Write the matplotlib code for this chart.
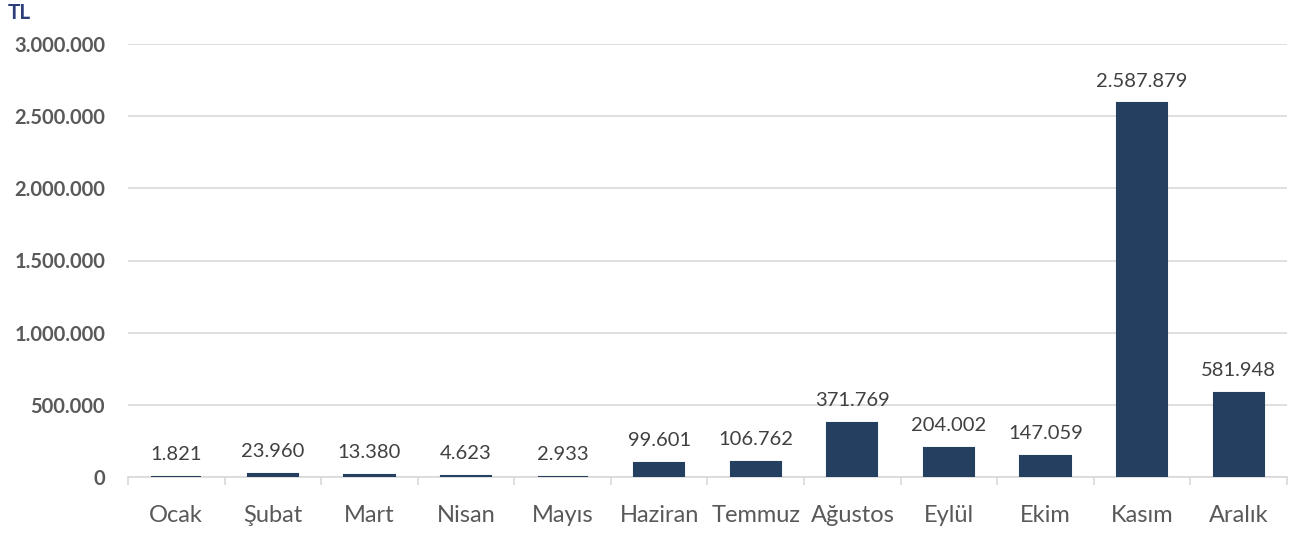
import matplotlib
matplotlib.use("Agg")
import matplotlib.pyplot as plt
from matplotlib.ticker import FixedLocator, FuncFormatter
import numpy as np

# veriler
months = ["Ocak", "Şubat", "Mart", "Nisan", "Mayıs", "Haziran",
          "Temmuz", "Ağustos", "Eylül", "Ekim", "Kasım", "Aralık"]
values = [1821, 23960, 13380, 4623, 2933, 99601,
          106762, 371769, 204002, 147059, 2587879, 581948]
y_ticks = [0, 500000, 1000000, 1500000, 2000000, 2500000, 3000000]

BAR_COLOR = "#243F60"
GRID_COLOR = "#D9D9D9"
TEXT_COLOR = "#595959"

plt.rcParams["font.family"] = ["Lato", "DejaVu Sans"]


def tr_fmt(v):
    # Türkçe binlik ayırıcı (nokta)
    return f"{int(round(v)):,}".replace(",", ".")


fig = plt.figure(figsize=(13.03, 5.34), dpi=100)
ax = fig.add_axes([128 / 1303, 1 - 477 / 534, (1287 - 128) / 1303, (477 - 44) / 534])

x = np.arange(len(months))
ax.bar(x, values, width=0.52, color=BAR_COLOR, edgecolor=BAR_COLOR,
       linewidth=1.5, zorder=3)

for xi, v in zip(x, values):
    ax.annotate(tr_fmt(v), (xi, v), xytext=(0, 10), textcoords="offset points",
                ha="center", va="bottom", fontsize=14.5, color="#404040")

ax.set_xlim(-0.5, len(months) - 0.5)
ax.set_ylim(0, 3000000)
ax.set_yticks(y_ticks)
ax.yaxis.set_major_formatter(FuncFormatter(lambda v, p: tr_fmt(v)))
ax.set_xticks(x)
ax.set_xticklabels(months)
ax.xaxis.set_minor_locator(FixedLocator(np.arange(-0.5, len(months), 1.0)))

ax.grid(axis="y", color=GRID_COLOR, linewidth=1.2, zorder=0)
for side in ["top", "right", "left"]:
    ax.spines[side].set_visible(False)
ax.spines["bottom"].set_color(GRID_COLOR)
ax.spines["bottom"].set_linewidth(1.2)

ax.tick_params(axis="y", length=0, pad=16.5, labelsize=14.5, labelcolor=TEXT_COLOR)
for lbl in ax.get_yticklabels():
    lbl.set_fontweight("bold")
ax.tick_params(axis="x", which="major", length=0, pad=20, labelsize=17,
               labelcolor=TEXT_COLOR)
ax.tick_params(axis="x", which="minor", length=6, width=1.2, color=GRID_COLOR)

fig.text(8 / 1303, 1 - 13 / 534, "TL", fontsize=15, fontweight="bold",
         color="#2E3E7A", ha="left", va="center")

fig.savefig("out.png", dpi=100, facecolor="white")
